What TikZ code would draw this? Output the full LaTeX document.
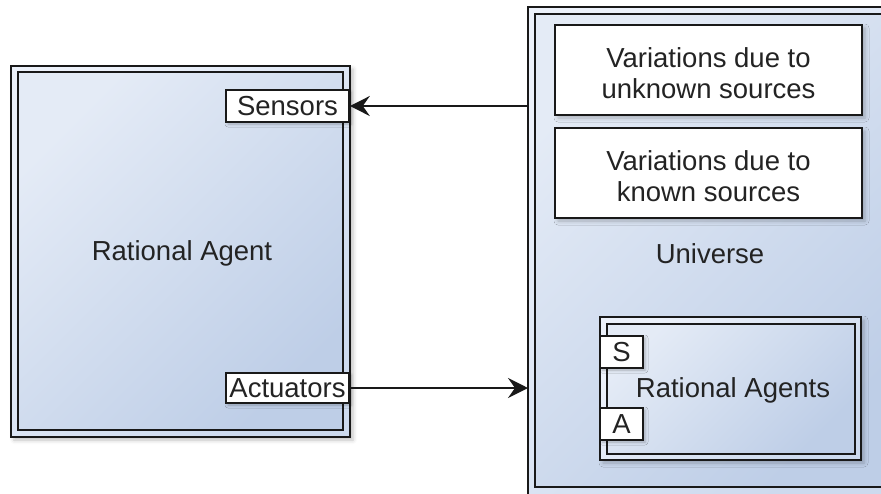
\documentclass[tikz,border=0pt]{standalone}
\usepackage{fontspec}
\setmainfont{Liberation Sans}
\usetikzlibrary{arrows.meta,shadows.blur}
\definecolor{fillA}{RGB}{228,235,246}
\definecolor{fillB}{RGB}{190,206,231}
\definecolor{gapA}{RGB}{236,241,250}
\definecolor{gapB}{RGB}{205,218,238}
\definecolor{ink}{RGB}{25,25,25}
\definecolor{textink}{RGB}{35,35,35}
\tikzset{
  frame/.style={draw=ink, line width=1.8pt, top color=gapA, bottom color=gapB, shading angle=45,
    blur shadow={shadow xshift=3pt, shadow yshift=-3pt, shadow blur radius=4pt, shadow opacity=25}},
  panel/.style={draw=ink, line width=1.8pt, top color=fillA, bottom color=fillB, shading angle=45},
  label/.style={font=\fontsize{27.5}{31.5}\selectfont, text=textink, align=center},
  port/.style={draw=ink, line width=1.6pt, fill=white,
    blur shadow={shadow xshift=2pt, shadow yshift=-2pt, shadow blur radius=3pt, shadow opacity=25}},
  note/.style={draw=ink, line width=1.8pt, fill=white,
    blur shadow={shadow xshift=3pt, shadow yshift=-3pt, shadow blur radius=4pt, shadow opacity=25}},
  flow/.style={draw=ink, line width=1.8pt, -{Stealth[length=20pt,width=20pt,inset=7pt]}}
}
\begin{document}
\begin{tikzpicture}[x=1pt,y=-1pt]
\useasboundingbox (0,0) rectangle (881,493);
\clip (0,0) rectangle (881,493);

% rational agent
\path[frame] (11,66) rectangle (350,437);
\path[panel] (18,72) rectangle (343,430);
\node[label] (agent) at (182,253) {Rational Agent};
\node[port, minimum width=123pt, minimum height=32pt, inner sep=0pt, label] (sensors) at (287.5,106) {Sensors};
\node[port, minimum width=123pt, minimum height=30pt, inner sep=0pt, label] (actuators) at (287.5,388) {Actuators};

% universe
\path[frame] (528,7) rectangle (900,500);
\path[panel] (535,14) rectangle (893,487);
\coordinate (uwest) at (528,250);
\node[note, minimum width=307pt, minimum height=90pt, inner sep=0pt, label] (unknown) at (708.5,70) {};
\node[label] at (708.5,73) {Variations due to\\unknown sources};
\node[note, minimum width=307pt, minimum height=90pt, inner sep=0pt, label] (known) at (708.5,173) {};
\node[label] at (708.5,176) {Variations due to\\known sources};
\node[label] (universe) at (710,254) {Universe};

% embedded rational agents
\path[frame] (600,317) rectangle (861,460);
\path[panel] (607,324) rectangle (855,454);
\node[label] (agents) at (733,390) {Rational Agents};
\node[port, minimum width=43pt, minimum height=32pt, inner sep=0pt, label] (s) at (621.5,352) {S};
\node[port, minimum width=43pt, minimum height=32pt, inner sep=0pt, label] (a) at (621.5,424) {A};

% connectors
\draw[flow] (sensors.east -| uwest) -- (sensors.east);
\draw[flow] (actuators.east) -- (actuators.east -| uwest);
\end{tikzpicture}
\end{document}
